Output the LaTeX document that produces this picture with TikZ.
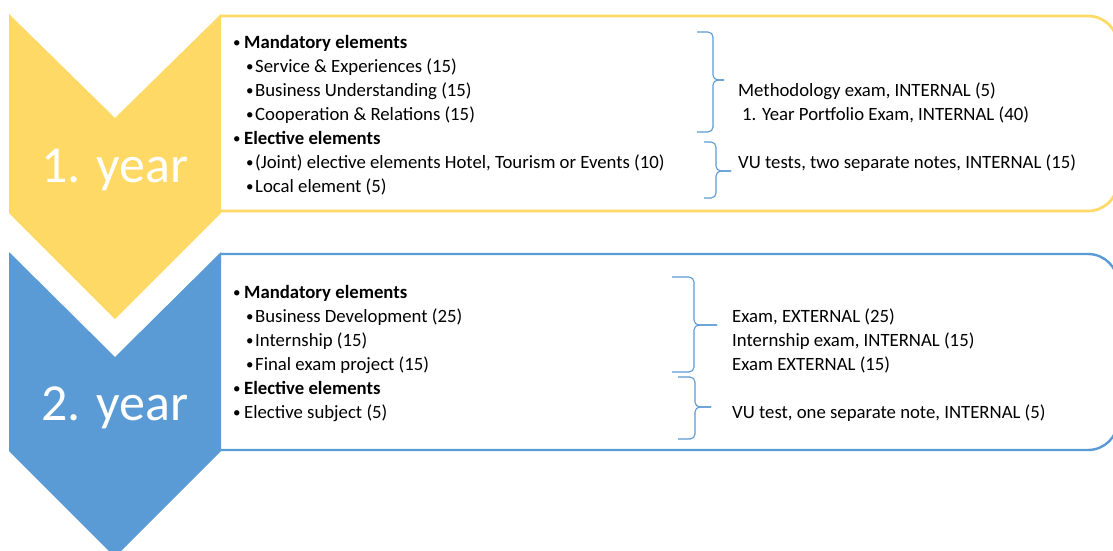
\documentclass[tikz,border=0pt]{standalone}
\usepackage{fontspec}
\setmainfont{Carlito}
\definecolor{yrgold}{HTML}{FFD966}
\definecolor{yrblue}{HTML}{5B9BD5}
\newcommand{\bulmark}{\raisebox{0.5pt}{\fontsize{15}{15}\selectfont\textbullet}}
\newcommand{\bulA}[1]{\makebox[11pt][l]{\bulmark}#1}
\newcommand{\bulB}[1]{\makebox[9pt][l]{\bulmark}#1}

\begin{document}
\begin{tikzpicture}[
		x=1pt,y=-1pt,
		txt/.style={anchor=base west,inner sep=0pt,font=\fontsize{18.75}{22}\selectfont},
		yeartxt/.style={anchor=base west,inner sep=0pt,text=white,font=\fontsize{52}{60}\selectfont},
		brc/.style={draw=yrblue,line width=1.1pt,rounded corners=5pt}
		]
		\useasboundingbox (0,0) rectangle (1113,550);
		% boxes and chevrons
		\draw[yrgold,line width=2.7pt,fill=white] (221,16) [rounded corners=30pt] -- (1118,16) -- (1118,211) -- (221,211);
		\draw[yrblue,line width=2.4pt,fill=white] (221,254) [rounded corners=30pt] -- (1118,254) -- (1118,450) -- (221,450);
		\fill[yrgold] (9,14) -- (115,118) -- (221,14) -- (221,213) -- (115,319) -- (9,213) -- cycle;
		\fill[yrblue] (9,252) -- (115,357) -- (221,252) -- (221,451) -- (115,557) -- (9,451) -- cycle;
		\node[yeartxt](yr1) at (41,182){1. year};
		\node[yeartxt](yr2) at (41,420){2. year};
		% 1. year
		\node[txt](a1) at (233,48){\bulA{\textbf{Mandatory elements}}};
		\node[txt](a2) at (246,72){\bulB{Service \& Experiences (15)}};
		\node[txt](a3) at (246,96){\bulB{Business Understanding (15)}};
		\node[txt](a4) at (246,120){\bulB{Cooperation \& Relations (15)}};
		\node[txt](a5) at (233,144){\bulA{\textbf{Elective elements}}};
		\node[txt](a6) at (246,168){\bulB{(Joint) elective elements Hotel, Tourism or Events (10)}};
		\node[txt](a7) at (246,192){\bulB{Local element (5)}};
		\node[txt](ea1) at (738,96){Methodology exam, INTERNAL (5)};
		\node[txt](ea2) at (742,120){1. Year Portfolio Exam, INTERNAL (40)};
		\node[txt](ea3) at (738,168){VU tests, two separate notes, INTERNAL (15)};
		\draw[brc] (697,32) -- (713,32) -- (713,80) -- (724,80);
		\draw[brc] (724,80) -- (713,80) -- (713,132) -- (697,132);
		\draw[brc] (704,142) -- (716,142) -- (716,171) -- (731,171);
		\draw[brc] (731,171) -- (716,171) -- (716,198) -- (704,198);
		% 2. year
		\node[txt](b1) at (233,298){\bulA{\textbf{Mandatory elements}}};
		\node[txt](b2) at (246,322){\bulB{Business Development (25)}};
		\node[txt](b3) at (246,346){\bulB{Internship (15)}};
		\node[txt](b4) at (246,370){\bulB{Final exam project (15)}};
		\node[txt](b5) at (233,394){\bulA{\textbf{Elective elements}}};
		\node[txt](b6) at (233,418){\bulA{Elective subject (5)}};
		\node[txt](eb1) at (732,322){Exam, EXTERNAL (25)};
		\node[txt](eb2) at (732,346){Internship exam, INTERNAL (15)};
		\node[txt](eb3) at (732,370){Exam EXTERNAL (15)};
		\node[txt](eb4) at (732,418){VU test, one separate note, INTERNAL (5)};
		\draw[brc] (672,277) -- (694,277) -- (694,325) -- (717,325);
		\draw[brc] (717,325) -- (694,325) -- (694,372) -- (672,372);
		\draw[brc] (678,377) -- (695,377) -- (695,407) -- (711,407);
		\draw[brc] (711,407) -- (695,407) -- (695,439) -- (678,439);
		
	\end{tikzpicture}
\end{document}
